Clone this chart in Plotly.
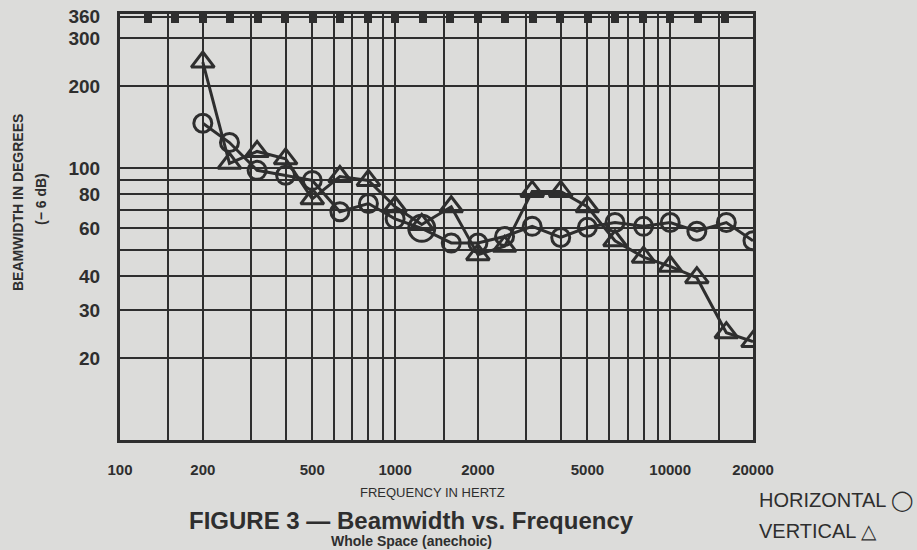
import math
import plotly.graph_objects as go

# ---- data ----
freqs = [200, 250, 315, 400, 500, 630, 800, 1000, 1250, 1600, 2000, 2500,
         3150, 4000, 5000, 6300, 8000, 10000, 12500, 16000, 20000]
horizontal = [146, 124, 98, 94, 90, 69, 74, 65, 60, 53, 53, 56,
              61, 55.5, 60.5, 63, 61, 63, 58.5, 63, 54]
vertical = [245, 104, 115, 108, 77, 93, 90, 72, 62, 72, 48, 51.5,
            82, 82, 72, 54, 47, 43.5, 39.5, 24.8, 23]

x_grid = [100, 150, 200, 300, 400, 500, 600, 700, 800, 900, 1000, 1500, 2000,
          3000, 4000, 5000, 6000, 7000, 8000, 9000, 10000, 15000, 20000]
x_labels = {100: "100", 200: "200", 500: "500", 1000: "1000", 2000: "2000",
            5000: "5000", 10000: "10000", 20000: "20000"}
y_grid = [20, 30, 40, 50, 60, 70, 80, 90, 100, 200, 300, 360]
y_labels = {20: "20", 30: "30", 40: "40", 60: "60", 80: "80", 100: "100",
            200: "200", 300: "300", 360: "360"}
top_ticks = [10 ** (2 + 0.1 * k) for k in range(24)]

BG = "#dcdcda"
INK = "#2e2e2e"
FONT = "Liberation Sans, Arial, sans-serif"

W, H = 917, 550
L, R, T, B = 120, 164, 14, 110
pw, ph = W - L - R, H - T - B


def px(xp):
    return (xp - L) / pw


def py(yp):
    return (H - B - yp) / ph


circle_sizes = [26 if f == 1250 else 18 for f in freqs]

fig = go.Figure()
fig.add_trace(go.Scatter(
    x=freqs, y=horizontal, mode="lines+markers", name="HORIZONTAL",
    line=dict(color=INK, width=3),
    marker=dict(symbol="circle-open", size=circle_sizes, color=INK, opacity=1,
                line=dict(color=INK, width=3)),
    showlegend=False))
fig.add_trace(go.Scatter(
    x=freqs, y=vertical, mode="lines+markers", name="VERTICAL",
    line=dict(color=INK, width=3),
    marker=dict(symbol="triangle-up-open", size=20, color=INK, opacity=1,
                line=dict(color=INK, width=3)),
    showlegend=False))
# helper trace so the top tick axis is drawn
fig.add_trace(go.Scatter(x=freqs, y=horizontal, mode="none", xaxis="x2",
                         showlegend=False, hoverinfo="skip"))

fig.update_layout(
    width=W, height=H,
    margin=dict(l=L, r=R, t=T, b=B, autoexpand=False),
    paper_bgcolor=BG, plot_bgcolor=BG,
    font=dict(family=FONT, color=INK),
    xaxis=dict(type="log", range=[2, math.log10(20000)],
               tickvals=x_grid,
               ticktext=[x_labels.get(v, "") for v in x_grid],
               showgrid=True, gridcolor=INK, gridwidth=2,
               showline=True, linecolor=INK, linewidth=3, mirror=True,
               ticks="", ticklabelstandoff=14, automargin=False,
               tickfont=dict(size=15, weight="bold", color=INK),
               zeroline=False),
    xaxis2=dict(type="log", range=[2, math.log10(20000)], overlaying="x",
                side="top", anchor="y", tickvals=top_ticks, automargin=False,
                ticks="inside", ticklen=9, tickwidth=8, tickcolor=INK,
                showticklabels=False, showgrid=False, showline=False),
    yaxis=dict(type="log", range=[1, math.log10(368)],
               tickvals=y_grid,
               ticktext=[y_labels.get(v, "") for v in y_grid],
               showgrid=True, gridcolor=INK, gridwidth=2,
               showline=True, linecolor=INK, linewidth=3, mirror=True,
               ticks="", ticklabelstandoff=13, automargin=False,
               tickfont=dict(size=19, weight="bold", color=INK),
               zeroline=False),
)

ann = []
ann.append(dict(x=px(18), y=py(203), text="<b>BEAMWIDTH IN DEGREES</b>",
                textangle=-90, font=dict(size=14)))
ann.append(dict(x=px(41), y=py(199), text="<b>(− 6 dB)</b>",
                textangle=-90, font=dict(size=14)))
ann.append(dict(x=px(432), y=py(493), text="FREQUENCY IN HERTZ",
                font=dict(size=13)))
ann.append(dict(x=px(411), y=py(520),
                text="<b>FIGURE 3 — Beamwidth vs. Frequency</b>",
                font=dict(size=24)))
ann.append(dict(x=px(411), y=py(541),
                text="<b>Whole Space (anechoic)</b>",
                font=dict(size=14)))
ann.append(dict(x=px(757), y=py(500), text="HORIZONTAL ◯",
                xanchor="left", font=dict(size=20)))
ann.append(dict(x=px(757), y=py(531), text="VERTICAL △",
                xanchor="left", font=dict(size=20)))
for a in ann:
    a.setdefault("xanchor", "center")
    a.update(xref="paper", yref="paper", yanchor="middle", showarrow=False)
fig.update_layout(annotations=ann)

fig.write_html("out.html", config={"displayModeBar": False},
               post_script="document.body.style.margin='0';")
